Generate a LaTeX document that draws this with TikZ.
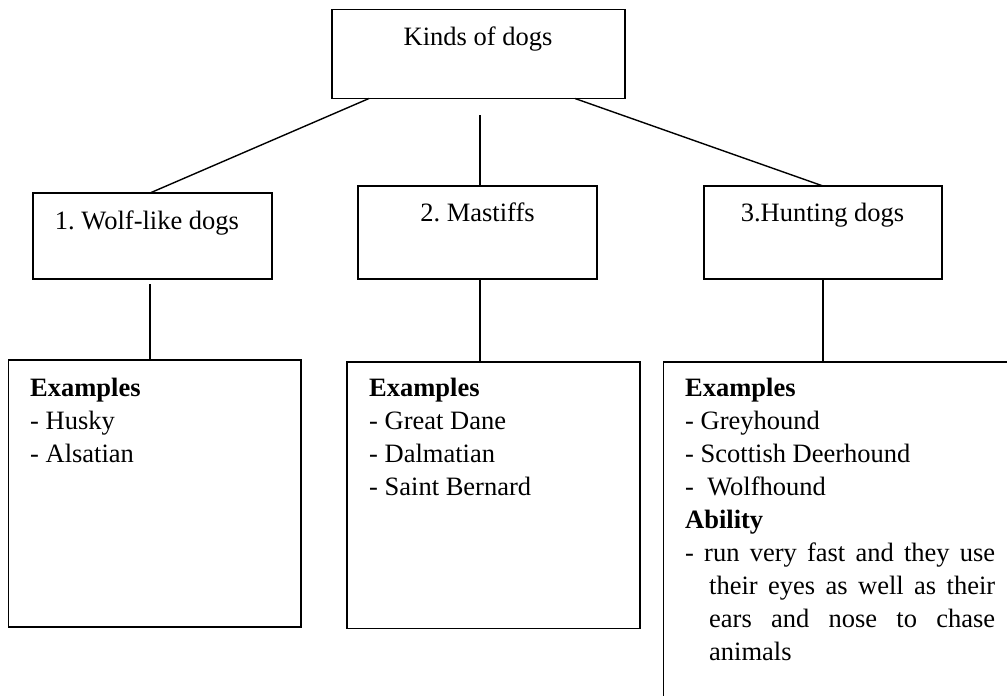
\documentclass[tikz,border=0pt]{standalone}
\usepackage{fontspec}
\setmainfont{Liberation Serif}
\frenchspacing
\begin{document}
\begin{tikzpicture}[x=1pt,y=-1pt,
  box/.style={draw, line width=1.9pt, rectangle, inner sep=0pt, outer sep=0pt, anchor=north west},
  link/.style={line width=1.4pt},
  ctxt/.style={inner sep=0pt, anchor=base, font=\fontsize{26.5}{33}\selectfont},
  ltxt/.style={inner sep=0pt, anchor=base west, font=\fontsize{26.5}{33}\selectfont}]
\clip (0,0) rectangle (1007,696);
\fill[white] (0,0) rectangle (1007,696);
% boxes
\node[box, minimum width=293pt, minimum height=89pt] (top) at (332,9.5) {};
\node[box, minimum width=239pt, minimum height=86pt] (wolf) at (33,193) {};
\node[box, minimum width=239pt, minimum height=93pt] (mast) at (358,186) {};
\node[box, minimum width=238pt, minimum height=93pt] (hunt) at (704,186) {};
\node[box, minimum width=292.5pt, minimum height=267pt] (ex1) at (8.5,360) {};
\node[box, minimum width=293pt, minimum height=266.5pt] (ex2) at (347,362) {};
\node[box, minimum width=360pt, minimum height=350pt] (ex3) at (663.5,362) {};
% titles
\node[ctxt] (ttop) at (478,45) {Kinds of dogs};
\node[ctxt] (twolf) at (147,229) {1. Wolf-like dogs};
\node[ctxt] (tmast) at (477.5,221) {2. Mastiffs};
\node[ctxt] (thunt) at (822.5,221) {3.Hunting dogs};
% connectors
\coordinate (midtop) at (480,115);
\coordinate (wolfgap) at (150,284);
\draw[link] ([xshift=-109.5pt]top.south) -- ([xshift=-2.5pt]wolf.north);
\draw[link] (midtop) -- (midtop |- mast.north);
\draw[link] ([xshift=96.5pt]top.south) -- (hunt.north);
\draw[link] (wolfgap) -- (wolfgap |- ex1.north);
\draw[link] ([xshift=2.5pt]mast.south) -- ([xshift=2.5pt]mast.south |- ex2.north);
\draw[link] (hunt.south) -- (hunt.south |- ex3.north);
% left box text
\node[ltxt] (a1) at (30,396) {\bfseries Examples};
\node[ltxt] (a2) at (30,429) {- Husky};
\node[ltxt] (a3) at (30,462) {- Alsatian};
% middle box text
\node[ltxt] (b1) at (369,396) {\bfseries Examples};
\node[ltxt] (b2) at (369,429) {- Great Dane};
\node[ltxt] (b3) at (369,462) {- Dalmatian};
\node[ltxt] (b4) at (369,495) {- Saint Bernard};
% right box text
\node[ltxt] (c1) at (685,396) {\bfseries Examples};
\node[ltxt] (c2) at (685,429) {- Greyhound};
\node[ltxt] (c3) at (685,462) {- Scottish Deerhound};
\node[ltxt] (c4) at (685,495) {-\ \ Wolfhound};
\node[ltxt] (c5) at (685,528) {\bfseries Ability};
\node[ltxt] (c6) at (685,561) {\makebox[310pt][s]{- run very fast and they use}};
\node[ltxt] (c7) at (709,594) {\makebox[286pt][s]{their eyes as well as their}};
\node[ltxt] (c8) at (709,627) {\makebox[286pt][s]{ears and nose to chase}};
\node[ltxt] (c9) at (709,660) {animals};
\end{tikzpicture}
\end{document}
